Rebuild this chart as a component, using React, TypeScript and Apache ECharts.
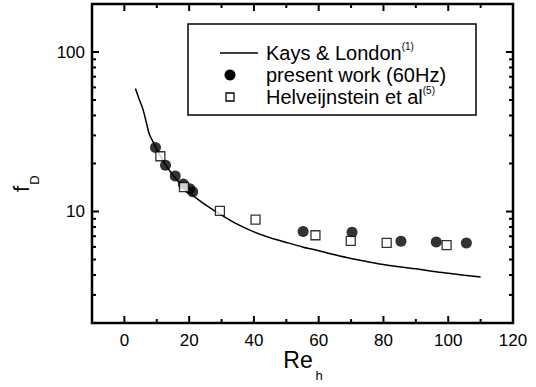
import React, { useEffect, useRef } from "react";
import * as echarts from "echarts";

// Kays & London curve
const kaysRe = [3.4, 4.5, 5.7, 6.8, 7.7, 9, 10.5, 12, 14, 16, 18, 20, 23, 26, 30, 35, 40, 45, 50, 55, 60, 65, 70, 75, 80, 85, 90, 95, 100, 105, 110];
const kaysF = [59, 51, 44, 36, 30.5, 27, 23.5, 20.8, 18.0, 16.0, 14.4, 13.2, 11.8, 10.7, 9.5, 8.3, 7.45, 6.85, 6.4, 6.0, 5.68, 5.35, 5.07, 4.85, 4.65, 4.5, 4.37, 4.22, 4.1, 3.98, 3.88];
// present work (60Hz)
const presentRe = [9.6, 12.7, 15.7, 18.2, 20.2, 21.1, 55.2, 70.3, 85.4, 96.3, 105.6];
const presentF = [25.2, 19.5, 16.7, 14.9, 13.9, 13.3, 7.5, 7.4, 6.5, 6.45, 6.35];
// Helveijnstein et al
const helvRe = [11.1, 18.4, 29.5, 40.5, 59.0, 69.9, 81.0, 99.5];
const helvF = [22.2, 14.2, 10.1, 8.9, 7.1, 6.55, 6.35, 6.15];

// axis ranges and tick positions
const X_MIN = -10;
const X_MAX = 120;
const Y_MIN = 2;
const Y_MAX = 200;
const xLabels = [0, 20, 40, 60, 80, 100, 120];
const xMajorTicks = [0, 20, 40, 60, 80, 100];
const xMinorTicks = [10, 30, 50, 70, 90, 110];
const yLabels = [10, 100];
const yMajorTicks = [10, 100];
const yMinorTicks = [3, 4, 5, 6, 7, 8, 9, 20, 30, 40, 50, 60, 70, 80, 90];

const FONT = "Liberation Sans";

function tickSeries(data: number[][], size: number[], offset: number[]) {
  return {
    type: "scatter",
    silent: true,
    clip: false,
    data,
    symbol: "rect",
    symbolSize: size,
    symbolOffset: offset,
    itemStyle: { color: "#000", opacity: 1 },
    z: 5,
  };
}

export default function App() {
  const ref = useRef<HTMLDivElement>(null);
  useEffect(() => {
    if (!ref.current) return;
    const chart = echarts.init(ref.current, undefined, { renderer: "svg" });
    const TW = 2;
    const MAJ = 7;
    const MIN = 4;
    chart.setOption({
      animation: false,
      backgroundColor: "#fff",
      grid: {
        left: 92,
        right: 23,
        top: 4,
        bottom: 64,
        show: true,
        borderColor: "#000",
        borderWidth: 2,
        backgroundColor: "#fff",
      },
      xAxis: {
        type: "value",
        position: "bottom",
        min: X_MIN,
        max: X_MAX,
        splitNumber: 7,
        splitLine: { show: false },
        axisLine: { show: false, onZero: false },
        axisTick: { show: false },
        axisLabel: {
          show: true,
          fontSize: 17,
          color: "#000",
          fontFamily: FONT,
          margin: 9,
          formatter: (v: number) => (xLabels.indexOf(v) >= 0 ? String(v) : ""),
        },
      },
      yAxis: {
        type: "log",
        logBase: 10,
        position: "left",
        min: Y_MIN,
        max: Y_MAX,
        splitLine: { show: false },
        axisLine: { show: false, onZero: false },
        axisTick: { show: false },
        axisLabel: {
          show: true,
          fontSize: 17,
          color: "#000",
          fontFamily: FONT,
          margin: 7,
          formatter: (v: number) => (yLabels.indexOf(Math.round(v)) >= 0 ? String(Math.round(v)) : ""),
        },
      },
      series: [
        tickSeries(xMajorTicks.map((x) => [x, Y_MIN]), [TW, MAJ], [0, -MAJ / 2]),
        tickSeries(xMinorTicks.map((x) => [x, Y_MIN]), [TW, MIN], [0, -MIN / 2]),
        tickSeries(xMajorTicks.map((x) => [x, Y_MAX]), [TW, MAJ], [0, MAJ / 2]),
        tickSeries(xMinorTicks.map((x) => [x, Y_MAX]), [TW, MIN], [0, MIN / 2]),
        tickSeries(yMajorTicks.map((y) => [X_MIN, y]), [MAJ, TW], [MAJ / 2, 0]),
        tickSeries(yMinorTicks.map((y) => [X_MIN, y]), [MIN, TW], [MIN / 2, 0]),
        tickSeries(yMajorTicks.map((y) => [X_MAX, y]), [MAJ, TW], [-MAJ / 2, 0]),
        tickSeries(yMinorTicks.map((y) => [X_MAX, y]), [MIN, TW], [-MIN / 2, 0]),
        {
          name: "Kays & London",
          type: "line",
          data: kaysRe.map((x, i) => [x, kaysF[i]]),
          showSymbol: false,
          symbol: "none",
          smooth: 0.3,
          lineStyle: { color: "#000", width: 1.5 },
          z: 2,
        },
        {
          name: "present work (60Hz)",
          type: "scatter",
          data: presentRe.map((x, i) => [x, presentF[i]]),
          symbol: "circle",
          symbolSize: 11,
          itemStyle: { color: "#000" },
          z: 3,
        },
        {
          name: "Helveijnstein et al",
          type: "scatter",
          data: helvRe.map((x, i) => [x, helvF[i]]),
          symbol: "rect",
          symbolSize: 9,
          itemStyle: { color: "#fff", borderColor: "#000", borderWidth: 1.3 },
          z: 4,
        },
      ],
      graphic: [
        {
          type: "rect",
          shape: { x: 92, y: 4, width: 421, height: 319 },
          style: { fill: "none", stroke: "#000", lineWidth: 2.5 },
          silent: true,
          z: 10,
        },
        {
          type: "rect",
          shape: { x: 188, y: 24, width: 288, height: 91 },
          style: { fill: "none", stroke: "#000", lineWidth: 1.5 },
        },
        {
          type: "line",
          shape: { x1: 220, y1: 53, x2: 258, y2: 53 },
          style: { stroke: "#000", lineWidth: 1.5 },
        },
        {
          type: "circle",
          shape: { cx: 230, cy: 75, r: 5.5 },
          style: { fill: "#000" },
        },
        {
          type: "rect",
          shape: { x: 226, y: 93, width: 8, height: 8 },
          style: { fill: "#fff", stroke: "#000", lineWidth: 1.3 },
        },
        {
          type: "text",
          x: 266,
          y: 53,
          style: {
            text: "{t|Kays & London}{s|(1)}",
            verticalAlign: "middle",
            rich: {
              t: { fontSize: 20, fontFamily: FONT, fill: "#000", lineHeight: 24 },
              s: { fontSize: 10, fontFamily: FONT, fill: "#000", verticalAlign: "top" },
            },
          },
        },
        {
          type: "text",
          x: 266,
          y: 75,
          style: { text: "present work (60Hz)", fontSize: 20, fontFamily: FONT, fill: "#000", verticalAlign: "middle" },
        },
        {
          type: "text",
          x: 266,
          y: 97,
          style: {
            text: "{t|Helveijnstein et al}{s|(5)}",
            verticalAlign: "middle",
            rich: {
              t: { fontSize: 20, fontFamily: FONT, fill: "#000", lineHeight: 24 },
              s: { fontSize: 10, fontFamily: FONT, fill: "#000", verticalAlign: "top" },
            },
          },
        },
        {
          type: "group",
          x: 21,
          y: 189,
          rotation: Math.PI / 2,
          children: [
            {
              type: "text",
              x: 0,
              y: 0,
              style: { text: "f", fontSize: 22, fontFamily: FONT, fill: "#000", align: "center", verticalAlign: "middle" },
            },
            {
              type: "text",
              x: 9,
              y: 13,
              style: { text: "D", fontSize: 13, fontFamily: FONT, fill: "#000", align: "center", verticalAlign: "middle" },
            },
          ],
        },
        {
          type: "text",
          x: 298,
          y: 360,
          style: { text: "Re", fontSize: 23, fontFamily: FONT, fill: "#000", align: "center", verticalAlign: "middle" },
        },
        {
          type: "text",
          x: 319,
          y: 375,
          style: { text: "h", fontSize: 13, fontFamily: FONT, fill: "#000", align: "center", verticalAlign: "middle" },
        },
      ],
    });
    return () => chart.dispose();
  }, []);
  return <div ref={ref} style={{ width: 536, height: 387, position: "absolute", left: 0, top: 0 }} />;
}
